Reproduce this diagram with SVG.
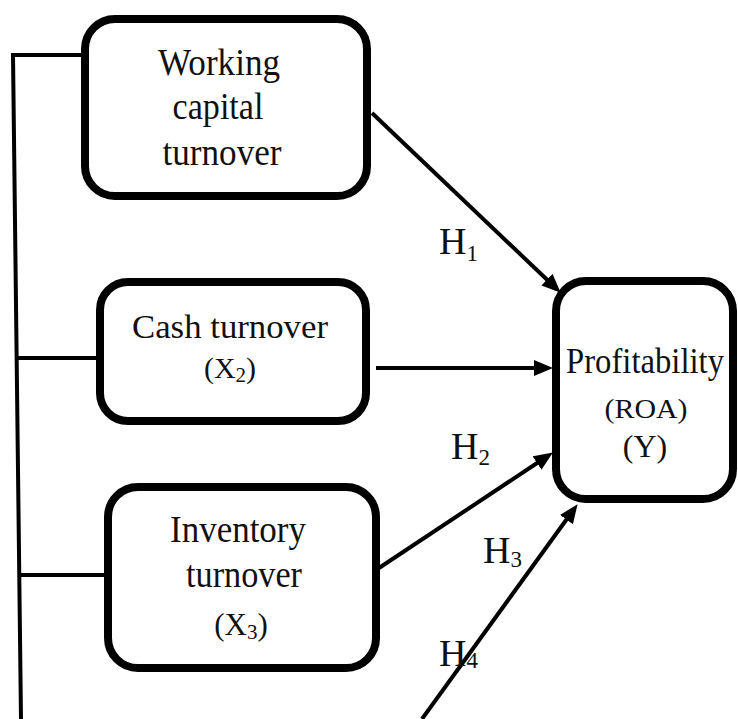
<svg xmlns="http://www.w3.org/2000/svg" width="738" height="719" viewBox="0 0 738 719">
<style>
.box{fill:#fff;stroke:#000;stroke-width:8}
.ln{fill:none;stroke:#000;stroke-width:4}
.con{fill:none;stroke:#000;stroke-width:4;marker-end:url(#ah)}
.t{font-family:"Liberation Serif","Times New Roman",serif;fill:#111;text-anchor:middle}
.h{font-family:"Liberation Serif","Times New Roman",serif;fill:#111;font-size:38px}
.s{font-size:23px}
</style>
<defs>
<marker id="ah" markerUnits="userSpaceOnUse" markerWidth="20" markerHeight="18" refX="10" refY="8" orient="auto">
<path d="M0,0 L19,8 L0,16 z" fill="#000"/>
</marker>
</defs>
<rect width="738" height="719" fill="#fff"/>
<g id="connectors">
<polyline class="ln" points="82,55 13,55 21,719"/>
<line class="ln" x1="15" y1="358" x2="97" y2="358"/>
<line class="ln" x1="18" y1="575" x2="104" y2="575"/>
<line class="con" x1="372" y1="113" x2="554.2" y2="286.5"/>
<line class="con" x1="376" y1="368" x2="544" y2="368"/>
<line class="con" x1="379" y1="568" x2="545.4" y2="457.5"/>
<line class="con" x1="422" y1="719" x2="572.3" y2="511.5"/>
<text class="h" x="439" y="254">H<tspan class="s" dy="7">1</tspan></text>
<text class="h" x="451" y="459">H<tspan class="s" dy="6">2</tspan></text>
<text class="h" x="483" y="563">H<tspan class="s" dy="4">3</tspan></text>
<text class="h" x="439" y="666">H<tspan class="s" dy="2">4</tspan></text>
</g>
<g id="working-capital">
<rect class="box" x="85" y="19" width="282" height="177" rx="30"/>
<text class="t" font-size="38" x="219" y="75" textLength="122" lengthAdjust="spacingAndGlyphs">Working</text>
<text class="t" font-size="38" x="218" y="119" textLength="91" lengthAdjust="spacingAndGlyphs">capital</text>
<text class="t" font-size="38" x="222" y="165" textLength="119" lengthAdjust="spacingAndGlyphs">turnover</text>
</g>
<g id="cash-turnover">
<rect class="box" x="100" y="282" width="266" height="139" rx="28"/>
<text class="t" font-size="34" x="230" y="338" textLength="196" lengthAdjust="spacingAndGlyphs">Cash turnover</text>
<text class="t" font-size="30" x="230" y="378">(X<tspan font-size="21" dy="4">2</tspan><tspan dy="-4">)</tspan></text>
</g>
<g id="inventory-turnover">
<rect class="box" x="108" y="487" width="268" height="181" rx="30"/>
<text class="t" font-size="37" x="238" y="542" textLength="136" lengthAdjust="spacingAndGlyphs">Inventory</text>
<text class="t" font-size="37" x="244" y="587" textLength="116" lengthAdjust="spacingAndGlyphs">turnover</text>
<text class="t" font-size="31" x="241" y="635">(X<tspan font-size="21" dy="4">3</tspan><tspan dy="-4">)</tspan></text>
</g>
<g id="profitability">
<rect class="box" x="556" y="281" width="177" height="218" rx="30"/>
<text class="t" font-size="35" x="645" y="373" textLength="158" lengthAdjust="spacingAndGlyphs">Profitability</text>
<text class="t" font-size="28" x="646" y="418" textLength="83" lengthAdjust="spacingAndGlyphs">(ROA)</text>
<text class="t" font-size="32" x="645" y="457">(Y)</text>
</g>
</svg>
